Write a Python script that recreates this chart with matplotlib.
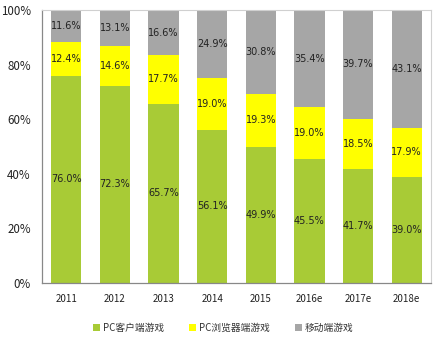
import matplotlib
matplotlib.use("Agg")
import matplotlib.pyplot as plt
from matplotlib.patches import Patch

plt.rcParams['font.family'] = ['Noto Sans CJK SC', 'DejaVu Sans']

years = ["2011", "2012", "2013", "2014", "2015", "2016e", "2017e", "2018e"]
pc_client = [76.0, 72.3, 65.7, 56.1, 49.9, 45.5, 41.7, 39.0]
pc_browser = [12.4, 14.6, 17.7, 19.0, 19.3, 19.0, 18.5, 17.9]
mobile = [11.6, 13.1, 16.6, 24.9, 30.8, 35.4, 39.7, 43.1]
series_names = ["PC客户端游戏", "PC浏览器端游戏", "移动端游戏"]
colors = ["#A8CB36", "#FFFF00", "#A6A6A6"]

fig = plt.figure(figsize=(4.38, 3.38), dpi=100)
ax = fig.add_axes([42/438, 1 - 283/338, 389/438, 273/338])

x = list(range(len(years)))
w = 0.62
bottom = [0.0] * len(years)
for vals, c in zip([pc_client, pc_browser, mobile], colors):
    ax.bar(x, vals, width=w, bottom=bottom, color=c, edgecolor='none', zorder=2)
    for xi, b, v in zip(x, bottom, vals):
        ax.text(xi, b + v / 2, f"{v:.1f}%", ha='center', va='center', fontsize=7, color='#222222', family=['DejaVu Sans'])
    bottom = [b + v for b, v in zip(bottom, vals)]

ax.set_xlim(-0.5, len(years) - 0.5)
ax.set_ylim(0, 100)
ax.set_yticks([0, 20, 40, 60, 80, 100])
ax.set_yticklabels([f"{t}%" for t in [0, 20, 40, 60, 80, 100]])
ax.set_xticks(x)
ax.set_xticklabels(years)
ax.tick_params(axis='both', length=0, labelsize=7, colors='#222222')
ax.tick_params(axis='y', pad=8, labelsize=8.3)
ax.tick_params(axis='x', pad=8)
for s in ['top', 'right']:
    ax.spines[s].set_color('#D0D0D0')
    ax.spines[s].set_linewidth(0.8)
for s in ['left', 'bottom']:
    ax.spines[s].set_color('#888888')
    ax.spines[s].set_linewidth(0.9)

handles = [Patch(facecolor=c, edgecolor='none') for c in colors]
fig.legend(handles, series_names, loc='center', bbox_to_anchor=(0.51, 1 - 328/338),
           ncol=3, frameon=False, fontsize=7, handlelength=0.7, handleheight=0.7,
           handletextpad=0.3, columnspacing=2.6, labelcolor='#333333')

fig.savefig("out.png", dpi=100)
